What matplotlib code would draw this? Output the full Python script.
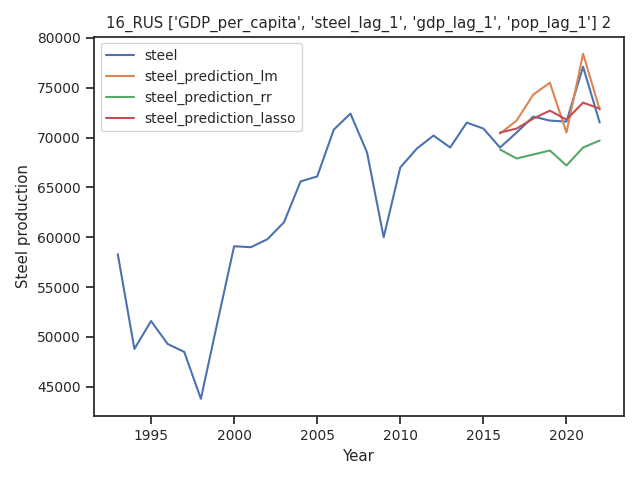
import matplotlib
matplotlib.use("Agg")
import matplotlib.pyplot as plt
import seaborn as sns

sns.set_theme(style="ticks", font_scale=0.9)

years = list(range(1993, 2023))
steel = [58300, 48800, 51600, 49300, 48500, 43800, 51500, 59100, 59000, 59800,
         61500, 65600, 66100, 70800, 72400, 68500, 60000, 67000, 68900, 70200,
         69000, 71500, 70900, 69000, 70500, 72100, 71700, 71600, 77100, 71500]
pred_years = list(range(2016, 2023))
pred_lm = [70400, 71700, 74300, 75500, 70500, 78400, 72800]
pred_rr = [68800, 67900, 68300, 68700, 67200, 69000, 69700]
pred_lasso = [70500, 70900, 71900, 72700, 71800, 73500, 72900]

fig, ax = plt.subplots(figsize=(6.4, 4.8), dpi=100)
ax.plot(years, steel, label="steel")
ax.plot(pred_years, pred_lm, label="steel_prediction_lm")
ax.plot(pred_years, pred_rr, label="steel_prediction_rr")
ax.plot(pred_years, pred_lasso, label="steel_prediction_lasso")
ax.set_xlabel("Year")
ax.set_ylabel("Steel production")
ax.set_title("16_RUS ['GDP_per_capita', 'steel_lag_1', 'gdp_lag_1', 'pop_lag_1'] 2")
ax.legend(loc="upper left")
fig.tight_layout()
fig.savefig("out.png")
